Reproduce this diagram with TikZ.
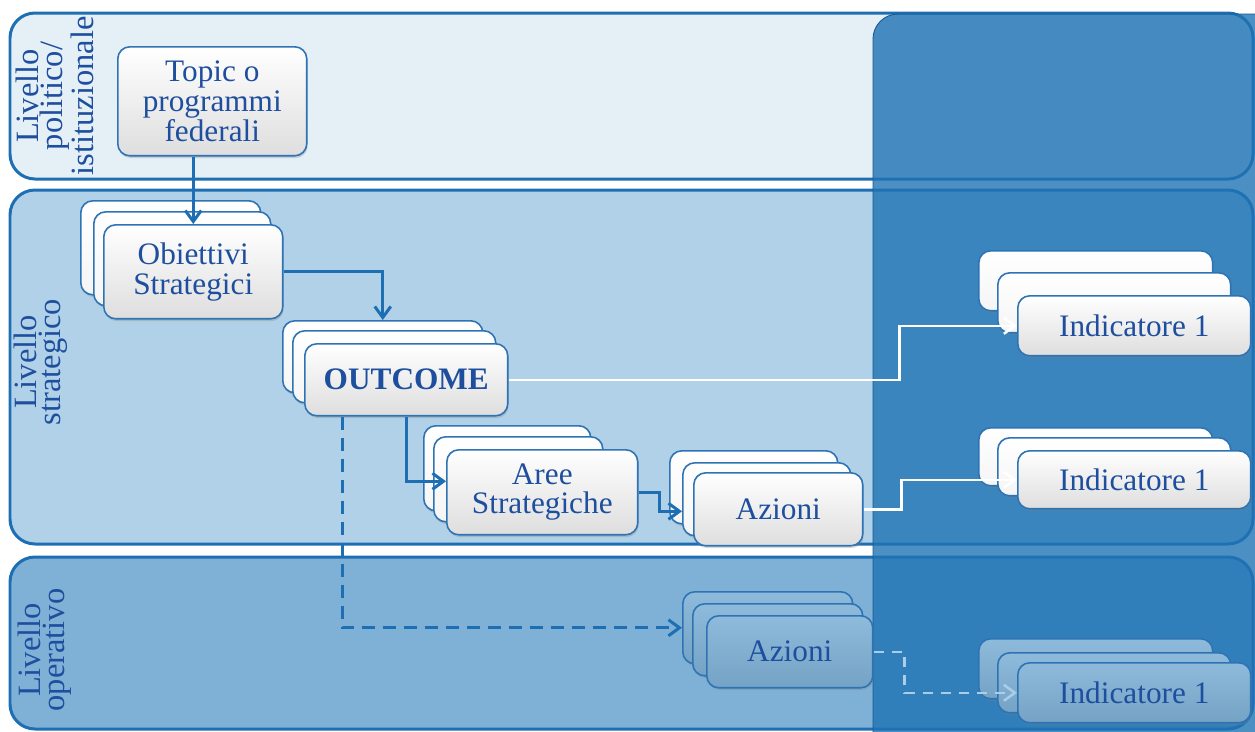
\documentclass[tikz,border=0pt]{standalone}
\usepackage{fontspec}
\setmainfont{Liberation Serif}
\usepackage{xcolor}
\usetikzlibrary{arrows.meta, calc, shadows}

\definecolor{lineblue}{RGB}{30,110,180}
\definecolor{textblue}{RGB}{30,78,158}
\definecolor{cardedge}{RGB}{46,116,181}
\definecolor{bandone}{RGB}{228,239,246}
\definecolor{bandtwo}{RGB}{176,209,231}
\definecolor{bandthree}{RGB}{127,177,214}
\definecolor{overlayblue}{RGB}{30,115,180}
\definecolor{dashlight}{RGB}{170,205,232}

\newcommand\cardfont{\fontsize{17.8}{16.8}\selectfont}

\tikzset{
  band/.style={draw=lineblue, line width=0.06cm, rounded corners=0.5cm},
  levellabel/.style={rotate=90, align=center, text=textblue, inner sep=0pt,
    font=\fontsize{18.5}{13.5}\selectfont},
  cardbase/.style={draw=cardedge, line width=0.9pt, rounded corners=0.24cm,
    anchor=north west, inner sep=0pt, align=center, text=textblue, font=\cardfont,
    drop shadow={shadow xshift=0.5pt, shadow yshift=-1.3pt, opacity=0.3}},
  card/.style={cardbase, top color=white, bottom color=black!13},
  backcard/.style={cardbase, top color=white, bottom color=black!4},
  opcard/.style={cardbase, top color=bandthree!88!white, bottom color=bandthree!92!black},
  flow/.style={lineblue, line width=0.06cm, -{Straight Barb[length=2.2mm,width=3.2mm]}},
  whiteflow/.style={white, line width=0.05cm, -{Straight Barb[length=2.2mm,width=3.2mm]}},
  opflow/.style={flow, dash pattern=on 0.26cm off 0.16cm},
  oplightflow/.style={dashlight, line width=0.05cm, dash pattern=on 0.2cm off 0.16cm,
    -{Straight Barb[length=2.2mm,width=3.2mm]}}
}

\begin{document}
\begin{tikzpicture}[x=0.02cm, y=-0.02cm]
\clip (0,0) rectangle (1255,731);

% Bands
\draw[band, fill=bandone] (10,13) rectangle (1253,179);
\draw[band, fill=bandtwo] (10,190) rectangle (1253,544);
\draw[band, fill=bandthree] (10,557) rectangle (1253,729);
\draw[draw=lineblue!80!black, line width=0.5pt, fill=overlayblue, fill opacity=0.8,
  rounded corners=0.5cm] (873,14) rectangle (1280,760);

\node[levellabel] (lab1) at (55,96) {Livello\\politico/\\istituzionale};
\node[levellabel] (lab2) at (41,362) {Livello\\strategico};
\node[levellabel] (lab3) at (45,650) {Livello\\operativo};

% Strategic chain
\node[card, minimum width=3.78cm, minimum height=2.18cm] (topic) at (117,46) {Topic o\\programmi\\federali};

\node[backcard, minimum width=3.6cm, minimum height=1.88cm] (obj3) at (80,200) {};
\node[backcard, minimum width=3.54cm, minimum height=1.88cm] (obj2) at (93,211) {};
\node[card, minimum width=3.58cm, minimum height=1.88cm] (obj) at (103,224) {Obiettivi\\Strategici};

\node[backcard, minimum width=4cm, minimum height=1.44cm] (out3) at (282,320) {};
\node[backcard, minimum width=4.06cm, minimum height=1.44cm] (out2) at (292,330) {};
\node[card, minimum width=4.06cm, minimum height=1.44cm] (out) at (304,343) {\textbf{OUTCOME}};

\node[backcard, minimum width=3.34cm, minimum height=1.7cm] (aree3) at (423,425) {};
\node[backcard, minimum width=3.38cm, minimum height=1.7cm] (aree2) at (433,436) {};
\node[card, minimum width=3.82cm, minimum height=1.7cm] (aree) at (446,449) {Aree\\Strategiche};

\node[backcard, minimum width=3.36cm, minimum height=1.46cm] (azi3) at (669,450) {};
\node[backcard, minimum width=3.36cm, minimum height=1.46cm] (azi2) at (682,462) {};
\node[card, minimum width=3.38cm, minimum height=1.46cm] (azi) at (693,472) {Azioni};

% Indicators
\node[backcard, minimum width=4.68cm, minimum height=1.2cm] (ind3) at (978,250) {};
\node[backcard, minimum width=4.66cm, minimum height=1.2cm] (ind2) at (997,272) {};
\node[card, minimum width=4.66cm, minimum height=1.2cm] (ind) at (1017,295) {Indicatore 1};

\node[backcard, minimum width=4.68cm, minimum height=1.16cm] (indb3) at (978,427) {};
\node[backcard, minimum width=4.66cm, minimum height=1.16cm] (indb2) at (997,437) {};
\node[card, minimum width=4.66cm, minimum height=1.16cm] (indb) at (1017,450) {Indicatore 1};

% Operational level
\node[opcard, minimum width=3.4cm, minimum height=1.44cm] (azop3) at (682,591) {};
\node[opcard, minimum width=3.4cm, minimum height=1.44cm] (azop2) at (692,603) {};
\node[opcard, minimum width=3.32cm, minimum height=1.44cm] (azop) at (706,615) {Azioni};

\node[opcard, minimum width=4.68cm, minimum height=1.2cm] (indop3) at (978,638) {};
\node[opcard, minimum width=4.66cm, minimum height=1.2cm] (indop2) at (997,652) {};
\node[opcard, minimum width=4.66cm, minimum height=1.2cm] (indop) at (1017,662) {Indicatore 1};

% Arrows
\draw[flow] (topic.south -| obj.north) -- (obj.north);
\draw[flow] (obj.east) -| (out3.north);
\draw[flow] ($(out.south west)+(102,0)$) |- ($(aree.west)+(0,-11)$);
\draw[flow] (aree.east) -- ++(21,0) |- ($(azi2.west)+(0,12)$);
\draw[whiteflow] (out.east) -- ++(391,0) |- (ind.west);
\draw[whiteflow] (azi.east) -- ++(38,0) |- (indb.west);

% Dashed inputs
\draw[opflow] ($(out.south west)+(38,0)$) |- (azop3.west);
\draw[oplightflow] (azop.east) -- ++(31,0) |- (indop.west);
\end{tikzpicture}
\end{document}
